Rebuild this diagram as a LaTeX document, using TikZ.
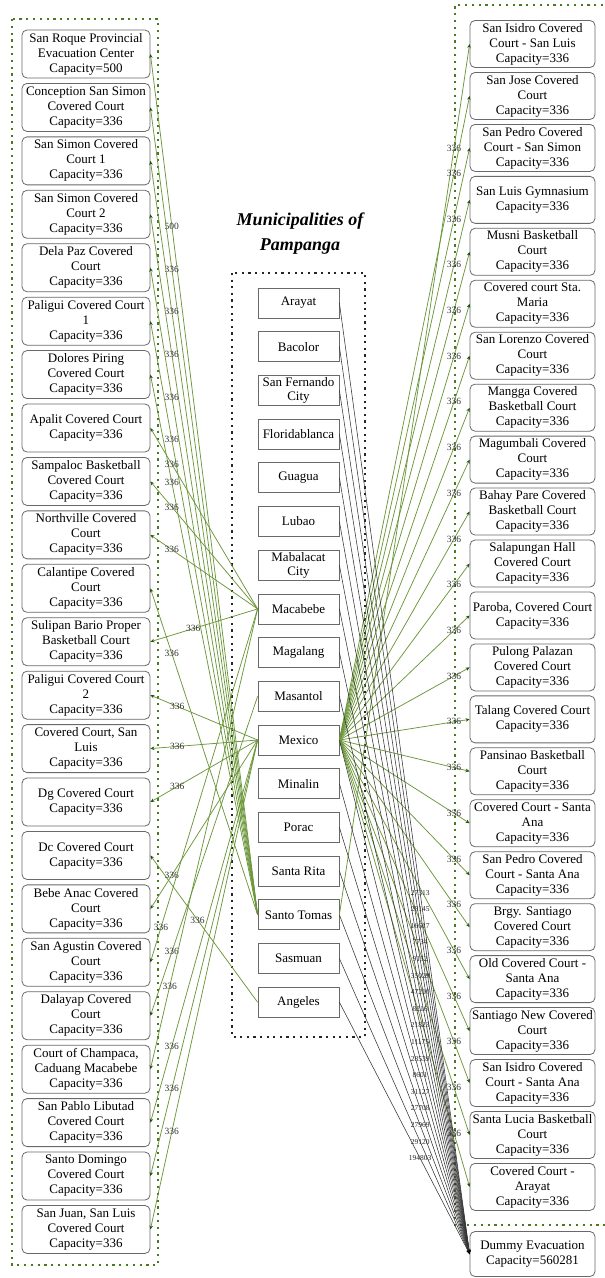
\documentclass[tikz,border=0pt]{standalone}
\usepackage{fontspec}
\setmainfont{Liberation Serif}
\usetikzlibrary{arrows.meta}
\definecolor{lg}{RGB}{108,150,58}
\definecolor{dg}{RGB}{74,122,34}
\definecolor{tipg}{RGB}{30,82,12}
\definecolor{bx}{RGB}{105,105,105}
\begin{document}
\begin{tikzpicture}[x=1pt,y=-1pt,
  evac/.style={draw=bx, line width=0.8pt, rounded corners=5pt, fill=white,
    minimum width=128pt, minimum height=48pt, inner sep=1pt, align=center,
    font=\fontsize{13}{15}\selectfont},
  revac/.style={evac, minimum width=125pt, minimum height=47pt},
  muni/.style={draw=bx, line width=0.8pt, fill=white, minimum width=81pt,
    minimum height=30pt, inner sep=1pt, align=center,
    font=\fontsize{13}{13.5}\selectfont},
  gline/.style={draw=lg, line width=0.75pt, -{Stealth[length=4pt,width=3.5pt,color=tipg]}},
  kline/.style={draw=black!80, line width=0.55pt, -{Stealth[length=4pt,width=3pt,color=black]}},
  elab/.style={font=\fontsize{9.5}{9.5}\selectfont, inner sep=0.5pt, text=black!80},
  nlab/.style={font=\fontsize{7.5}{7.5}\selectfont, inner sep=0.3pt, text=black!85},
  gdots/.style={draw=dg, line width=1.6pt, dash pattern=on 2.2pt off 4.6pt},
  kdots/.style={draw=black!85, line width=1.6pt, dash pattern=on 2.2pt off 4.4pt}]
\useasboundingbox (0,0) rectangle (605,1278);

% containers
\draw[gdots] (12,19) rectangle (158,1265);
\draw[kdots] (232,273) rectangle (365,1037);
\draw[gdots] (610,5) -- (455,5) -- (455,1225) -- (610,1225);

% title
\node[font=\fontsize{18}{25}\selectfont\bfseries\itshape, align=center] (title) at (300,234)
  {Municipalities of\\Pampanga};

% left evacuation centres
\foreach \t [count=\i from 0] in {
  {San Roque Provincial\\Evacuation Center\\Capacity=500},
  {Conception San Simon\\Covered Court\\Capacity=336},
  {San Simon Covered\\Court 1\\Capacity=336},
  {San Simon Covered\\Court 2\\Capacity=336},
  {Dela Paz Covered\\Court\\Capacity=336},
  {Paligui Covered Court\\1\\Capacity=336},
  {Dolores Piring\\Covered Court\\Capacity=336},
  {Apalit Covered Court\\Capacity=336},
  {Sampaloc Basketball\\Covered Court\\Capacity=336},
  {Northville Covered\\Court\\Capacity=336},
  {Calantipe Covered\\Court\\Capacity=336},
  {Sulipan Bario Proper\\Basketball Court\\Capacity=336},
  {Paligui Covered Court\\2\\Capacity=336},
  {Covered Court, San\\Luis\\Capacity=336},
  {Dg Covered Court\\Capacity=336},
  {Dc Covered Court\\Capacity=336},
  {Bebe Anac Covered\\Court\\Capacity=336},
  {San Agustin Covered\\Court\\Capacity=336},
  {Dalayap Covered\\Court\\Capacity=336},
  {Court of Champaca,\\Caduang Macabebe\\Capacity=336},
  {San Pablo Libutad\\Covered Court\\Capacity=336},
  {Santo Domingo\\Covered Court\\Capacity=336},
  {San Juan, San Luis\\Covered Court\\Capacity=336}}
  \node[evac] (L\i) at (86,{54+53.43*\i}) {\t};

% right evacuation centres
\foreach \t [count=\i from 0] in {
  {San Isidro Covered\\Court - San Luis\\Capacity=336},
  {San Jose Covered\\Court\\Capacity=336},
  {San Pedro Covered\\Court - San Simon\\Capacity=336},
  {San Luis Gymnasium\\Capacity=336},
  {Musni Basketball\\Court\\Capacity=336},
  {Covered court Sta.\\Maria\\Capacity=336},
  {San Lorenzo Covered\\Court\\Capacity=336},
  {Mangga Covered\\Basketball Court\\Capacity=336},
  {Magumbali Covered\\Court\\Capacity=336},
  {Bahay Pare Covered\\Basketball Court\\Capacity=336},
  {Salapungan Hall\\Covered Court\\Capacity=336},
  {Paroba, Covered Court\\Capacity=336},
  {Pulong Palazan\\Covered Court\\Capacity=336},
  {Talang Covered Court\\Capacity=336},
  {Pansinao Basketball\\Court\\Capacity=336},
  {Covered Court - Santa\\Ana\\Capacity=336},
  {San Pedro Covered\\Court - Santa Ana\\Capacity=336},
  {Brgy. Santiago\\Covered Court\\Capacity=336},
  {Old Covered Court -\\Santa Ana\\Capacity=336},
  {Santiago New Covered\\Court\\Capacity=336},
  {San Isidro Covered\\Court - Santa Ana\\Capacity=336},
  {Santa Lucia Basketball\\Court\\Capacity=336},
  {Covered Court -\\Arayat\\Capacity=336}}
  \node[revac] (R\i) at (532.5,{44+51.95*\i}) {\t};

\node[revac, minimum height=45pt] (D) at (532.5,1254) {Dummy Evacuation\\Capacity=560281};

% municipalities
\foreach \t [count=\i from 0] in {Arayat, Bacolor, {San Fernando\\City}, Floridablanca,
  Guagua, Lubao, {Mabalacat\\City}, Macabebe, Magalang, Masantol, Mexico, Minalin,
  Porac, Santa Rita, Santo Tomas, Sasmuan, Angeles}
  \node[muni] (M\i) at (298.5,{303+43.7*\i}) {\t};

% green connectors to the left
\foreach \m/\e/\c/\p in {14/0/500/0.8, 14/1/336/0.8, 14/2/336/0.8, 14/3/336/0.8,
  14/4/336/0.8, 14/5/336/0.8, 14/6/336/0.8, 7/7/336/0.8, 7/8/336/0.8, 7/9/336/0.8,
  14/10/336/0.8, 7/11/336/0.6, 10/12/336/0.75, 10/13/336/0.75, 10/14/336/0.75,
  16/15/336/0.56, 10/16/336/0.8, 7/17/336/0.9, 9/18/336/0.8, 7/19/336/0.82,
  10/20/336/0.8, 10/21/336/0.8, 10/22/336/0.8}
  \draw[gline] (M\m.west) -- node[elab,pos=\p]{\c} (L\e.east);

% green connectors to the right
\foreach \m/\e in {14/0, 10/1, 10/2, 10/3, 10/4, 10/5, 10/6, 10/7, 10/8, 10/9,
  10/10, 10/11, 10/12, 10/13, 10/14, 10/15, 10/16, 10/17, 10/18, 10/19, 10/20,
  10/21, 10/22}
  \draw[gline] (M\m.east) -- node[elab,pos=0.88]{336} (R\e.west);

% black connectors to the dummy node
\foreach \m/\n in {0/27313, 1/28145, 2/16617, 3/7734, 4/9152, 5/35029, 6/47210,
  7/8216, 8/21823, 9/11175, 10/28539, 11/8601, 12/31127, 13/27708, 14/27969,
  15/29120, 16/194803}
  \draw[kline] (M\m.east) -- node[nlab,pos=0.62]{\n} (D.west);
\end{tikzpicture}
\end{document}
